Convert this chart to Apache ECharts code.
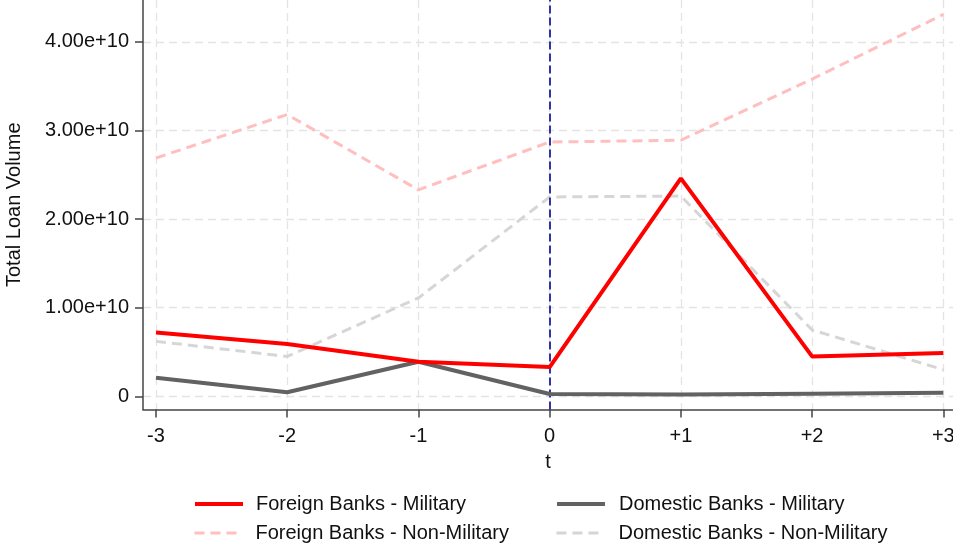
<!DOCTYPE html>
<html>
<head>
<meta charset="utf-8">
<script src="https://cdn.jsdelivr.net/npm/echarts@6/dist/echarts.min.js"></script>
<style>
html,body{margin:0;padding:0;background:#fff;}
#chart{width:953px;height:543px;}
</style>
</head>
<body>
<div id="chart"></div>
<script>
// ---- data ----
const categories = ['-3', '-2', '-1', '0', '+1', '+2', '+3'];
const catPositions = [-3, -2, -1, 0, 1, 2, 3];
const foreignMilitary    = [7.2e9, 5.9e9, 3.9e9, 3.3e9, 2.46e10, 4.5e9, 4.9e9];
const domesticMilitary   = [2.1e9, 4.5e8, 3.9e9, 2.6e8, 2.0e8, 3.0e8, 4.0e8];
const foreignNonMilitary = [2.69e10, 3.18e10, 2.33e10, 2.87e10, 2.89e10, 3.58e10, 4.31e10];
const domesticNonMilitary= [6.2e9, 4.5e9, 1.11e10, 2.25e10, 2.26e10, 7.5e9, 3.0e9];
const yTickValues = [0, 1e10, 2e10, 3e10, 4e10];
const yTickLabels = ['0', '1.00e+10', '2.00e+10', '3.00e+10', '4.00e+10'];
const eventTime = 0;

const names = {
  fm: 'Foreign Banks - Military',
  dm: 'Domestic Banks - Military',
  fn: 'Foreign Banks - Non-Military',
  dn: 'Domestic Banks - Non-Military'
};

function pairs(vals) { return vals.map((v, i) => [catPositions[i], v]); }

const FONT = 'Liberation Sans, Arial, sans-serif';
const chart = echarts.init(document.getElementById('chart'), null, {renderer: 'canvas'});

const gridLine = {show: true, lineStyle: {color: '#e4e4e4', width: 1.3, type: [8, 5]}};

function legendAt(name, left, top, pad, lineStyle) {
  return {
    data: [name], orient: 'horizontal', left: left, top: top, padding: 0,
    itemWidth: 48, itemHeight: 2, itemGap: 0,
    itemStyle: {opacity: 0},
    lineStyle: lineStyle,
    textStyle: {fontSize: 20, color: '#111', fontFamily: FONT, padding: [0, 0, 0, pad]}
  };
}

const styles = {
  fm: {color: '#ff0000', width: 4, type: 'solid'},
  dm: {color: '#626262', width: 4, type: 'solid'},
  fn: {color: '#ffbfbf', width: 3, type: [10, 6]},
  dn: {color: '#d6d6d6', width: 3, type: [10, 6]}
};

chart.setOption({
  animation: false,
  backgroundColor: '#fff',
  textStyle: {fontFamily: FONT},
  grid: {left: 143, right: 0, top: 0, bottom: 133.5, containLabel: false, outerBoundsMode: 'none'},
  xAxis: {
    type: 'value',
    min: -3.099, max: 3.074,
    name: 't', nameLocation: 'middle', nameGap: 43,
    nameTextStyle: {fontSize: 20, color: '#111', fontFamily: FONT},
    axisLine: {show: true, onZero: false, lineStyle: {color: '#444', width: 1.5}},
    axisTick: {show: true, length: 8, customValues: catPositions, lineStyle: {color: '#444', width: 1.5}},
    axisLabel: {
      customValues: catPositions, margin: 17, fontSize: 20, color: '#111', fontFamily: FONT,
      formatter: v => categories[catPositions.indexOf(Math.round(v))]
    },
    splitLine: gridLine
  },
  yAxis: {
    type: 'value',
    min: -0.149e10, max: 4.473e10,
    name: 'Total Loan Volume', nameLocation: 'middle', nameGap: 119,
    nameTextStyle: {fontSize: 20, color: '#111', fontFamily: FONT},
    axisLine: {show: true, onZero: false, lineStyle: {color: '#444', width: 1.5}},
    axisTick: {show: true, length: 8, customValues: yTickValues, lineStyle: {color: '#444', width: 1.5}},
    axisLabel: {
      customValues: yTickValues, margin: 14, fontSize: 20, color: '#111', fontFamily: FONT,
      formatter: v => yTickLabels[yTickValues.indexOf(v)]
    },
    splitLine: gridLine
  },
  legend: [
    legendAt(names.fm, 193, 494, 8, styles.fm),
    legendAt(names.fn, 193, 523, 8, styles.fn),
    legendAt(names.dm, 555, 494, 9, styles.dm),
    legendAt(names.dn, 555, 523, 9, styles.dn)
  ],
  series: [
    {
      name: names.fn, type: 'line', data: pairs(foreignNonMilitary), symbol: 'none', z: 2,
      lineStyle: styles.fn, itemStyle: {color: styles.fn.color},
      markLine: {
        silent: true, symbol: 'none', label: {show: false}, z: 3,
        lineStyle: {color: '#1e1ea0', width: 1.8, type: [8, 4]},
        data: [{xAxis: eventTime}]
      }
    },
    {
      name: names.dn, type: 'line', data: pairs(domesticNonMilitary), symbol: 'none', z: 2,
      lineStyle: styles.dn, itemStyle: {color: styles.dn.color}
    },
    {
      name: names.dm, type: 'line', data: pairs(domesticMilitary), symbol: 'none', z: 4,
      lineStyle: styles.dm, itemStyle: {color: styles.dm.color}
    },
    {
      name: names.fm, type: 'line', data: pairs(foreignMilitary), symbol: 'none', z: 5,
      lineStyle: styles.fm, itemStyle: {color: styles.fm.color}
    }
  ]
});
</script>
</body>
</html>
